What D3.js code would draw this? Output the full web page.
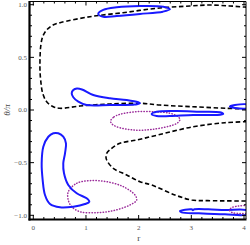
<!DOCTYPE html>
<html><head><meta charset="utf-8">
<script src="https://cdn.jsdelivr.net/npm/d3@7"></script>
<style>html,body{margin:0;padding:0;background:#fff;}svg{display:block;}</style>
</head><body>
<svg id="c" width="250" height="245"></svg>
<script>
// ---- data: contour curves as [r, theta/pi] ----
const blackUpper = [[4.06,0.976],[3.998,0.978],[3.733,0.988],[3.353,0.997],[2.973,0.988],[2.342,0.966],[1.702,0.924],[1.076,0.886],[0.507,0.829],[0.374,0.807],[0.254,0.760],[0.178,0.696],[0.140,0.601],[0.127,0.475],[0.127,0.380],[0.140,0.285],[0.178,0.159],[0.254,0.079],[0.380,0.031],[0.507,0.016],[0.886,0.038],[1.455,0.057],[2.025,0.064],[2.404,0.047],[3.030,0.031],[3.670,0.016],[4.06,0.009]];
const blackLower = [[4.06,-0.111],[3.638,-0.121],[3.036,-0.159],[2.366,-0.237],[1.962,-0.285],[1.645,-0.316],[1.488,-0.364],[1.393,-0.411],[1.380,-0.446],[1.393,-0.475],[1.518,-0.554],[1.772,-0.617],[2.025,-0.681],[2.247,-0.712],[2.689,-0.807],[3.006,-0.855],[3.315,-0.861],[4.06,-0.864]];
const blueTop = [[1.233,0.912],[1.328,0.950],[1.583,0.975],[2.025,0.988],[2.467,0.981],[2.594,0.956],[2.461,0.934],[2.025,0.912],[1.583,0.893],[1.328,0.886]];
const blueMidUpper = [[0.729,0.159],[0.759,0.190],[0.829,0.204],[0.924,0.195],[1.139,0.142],[1.455,0.111],[1.772,0.095],[1.992,0.073],[2.025,0.064],[1.968,0.054],[1.898,0.051],[1.455,0.047],[1.013,0.047],[0.854,0.079],[0.759,0.121]];
const blueMidLower = [[2.247,-0.038],[2.342,-0.016],[2.721,-0.009],[3.163,-0.016],[3.543,-0.022],[3.605,-0.038],[3.480,-0.047],[3.036,-0.047],[2.594,-0.057],[2.342,-0.057]];
const blueEdge = [[3.732,0.033],[3.827,0.047],[4.06,0.050],[4.06,0.019],[3.827,0.019]];
const blueL = [[0.474,-0.221],[0.569,-0.254],[0.620,-0.316],[0.602,-0.411],[0.569,-0.506],[0.583,-0.601],[0.664,-0.712],[0.824,-0.791],[1.013,-0.839],[1.063,-0.871],[0.981,-0.893],[0.759,-0.918],[0.507,-0.924],[0.317,-0.893],[0.222,-0.807],[0.178,-0.665],[0.159,-0.506],[0.190,-0.349],[0.285,-0.254],[0.380,-0.221]];
const blueBottom = [[2.784,-0.959],[3.006,-0.943],[3.030,-0.951],[3.060,-0.943],[3.321,-0.943],[3.638,-0.950],[4.06,-0.955],[4.06,-0.991],[3.638,-0.991],[3.131,-0.981],[2.816,-0.972]];
const purpleMid = [[1.469,-0.102],[1.531,-0.066],[1.645,-0.041],[1.962,-0.016],[2.277,-0.016],[2.594,-0.031],[2.727,-0.057],[2.784,-0.088],[2.746,-0.119],[2.657,-0.142],[2.277,-0.183],[1.898,-0.190],[1.583,-0.159],[1.484,-0.128]];
const purpleLow = [[0.664,-0.776],[0.824,-0.696],[1.076,-0.671],[1.393,-0.681],[1.708,-0.728],[1.930,-0.807],[1.962,-0.855],[1.835,-0.902],[1.518,-0.956],[1.203,-0.975],[0.886,-0.966],[0.729,-0.918],[0.664,-0.855]];
const purpleEdge = [[4.06,-0.905],[3.890,-0.912],[3.770,-0.926],[3.723,-0.950],[3.770,-0.973],[3.922,-0.983],[4.06,-0.983]];

const xMajor = [0,1,2,3,4];
const yMajor = [-1,-0.5,0,0.5,1];
const yTickLabels = ["\u22121.0","\u22120.5","0.0","0.5","1.0"];
const xLabel = "r";
const yLabel = "\u03b8/\u03c0";

// ---- layout ----
const svg = d3.select("#c");
const L=30, R=246, T=1.5, B=219;
const x = d3.scaleLinear().domain([0,4]).range([33.3,244]);
const y = d3.scaleLinear().domain([-1,1]).range([215.3,4.7]);

svg.append("defs").append("clipPath").attr("id","clip")
  .append("rect").attr("x",L).attr("y",T).attr("width",R-L).attr("height",B-T);

const g = svg.append("g").attr("clip-path","url(#clip)");
const lineOpen = d3.line().x(d=>x(d[0])).y(d=>y(d[1])).curve(d3.curveCatmullRom.alpha(0.5));
const lineClosed = d3.line().x(d=>x(d[0])).y(d=>y(d[1])).curve(d3.curveCatmullRomClosed.alpha(0.5));

function draw(data, closed, color, width, dash, cap){
  g.append("path").attr("d",(closed?lineClosed:lineOpen)(data))
   .attr("fill","none").attr("stroke",color).attr("stroke-width",width)
   .attr("stroke-dasharray",dash||null).attr("stroke-linejoin","round")
   .attr("stroke-linecap",cap||"butt");
}
const BLUE="#1a1aff", PURP="#9b2d9b";
draw(blackUpper,false,"#000",1.6,"4.5,2.6");
draw(blackLower,false,"#000",1.6,"4.5,2.6");
draw(purpleMid,true,PURP,1.5,"0.4,2.4","round");
draw(purpleLow,true,PURP,1.5,"0.4,2.4","round");
draw(blueTop,true,BLUE,2);
draw(blueMidUpper,true,BLUE,2);
draw(blueMidLower,true,BLUE,2);
draw(blueEdge,true,BLUE,2);
draw(blueL,true,BLUE,2);
draw(blueBottom,true,BLUE,2);
draw(purpleEdge,false,PURP,1.5,"0.4,2.4","round");

// ---- frame & ticks ----
const yMinor = d3.range(-10,11).map(v=>v/10).filter(v=>Math.abs(v*2-Math.round(v*2))>1e-6);
const xMinor = d3.range(0,21).map(v=>v/5).filter(v=>Math.abs(v-Math.round(v))>1e-6);
const fr = svg.append("g");
function tk(x1,y1,x2,y2,w){fr.append("line").attr("x1",x1).attr("y1",y1).attr("x2",x2).attr("y2",y2).attr("stroke","#000").attr("stroke-width",w||1);}
xMajor.forEach(v=>{tk(x(v),B,x(v),B-4);tk(x(v),T,x(v),T+4);});
xMinor.forEach(v=>{tk(x(v),B,x(v),B-2);tk(x(v),T,x(v),T+2);});
yMajor.forEach(v=>{tk(L,y(v),L+4,y(v));tk(R,y(v),R-4,y(v));});
yMinor.forEach(v=>{tk(L,y(v),L+2,y(v));tk(R,y(v),R-2,y(v));});
tk(L,T,R,T,1); tk(R,T,R,B,1);
tk(L-0.5,T-0.5,L-0.5,B+1.5,2.2); tk(L-1.5,B+0.5,R+0.5,B+0.5,2.2);

// ---- labels ----
const font = "'Liberation Serif','DejaVu Serif',serif";
yMajor.forEach((v,i)=>{
  svg.append("text").attr("x",27).attr("y",y(v)+2.3).attr("text-anchor","end")
    .attr("font-family",font).attr("font-size",7).attr("fill","#555").text(yTickLabels[i]);
});
xMajor.forEach(v=>{
  svg.append("text").attr("x",x(v)).attr("y",230).attr("text-anchor","middle")
    .attr("font-family",font).attr("font-size",7).attr("fill","#555").text(String(v));
});
svg.append("text").attr("x",x(2)).attr("y",241).attr("text-anchor","middle")
  .attr("font-family",font).attr("font-size",9).attr("fill","#444").text(xLabel);
svg.append("text").attr("transform","translate(10,110) rotate(-90)").attr("text-anchor","middle")
  .attr("font-family",font).attr("font-size",9).attr("font-style","italic").attr("fill","#444").text(yLabel);
</script>
</body></html>
